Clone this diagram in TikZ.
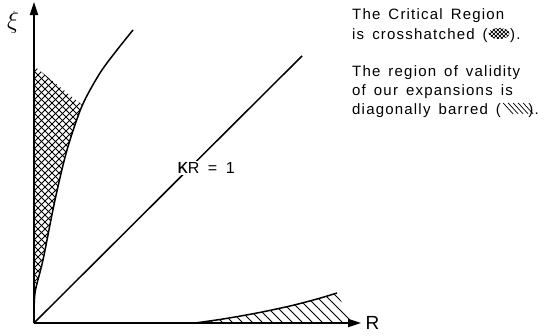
\documentclass[tikz,border=0pt]{standalone}
\usepackage{fontspec}
\setmainfont{Liberation Sans}
\newfontfamily\critfont{Liberation Sans}[LetterSpace=8,WordSpace=1.5]
\usetikzlibrary{arrows.meta,positioning}
\tikzset{
  critaxis/.style={line width=1.8pt,-{Triangle[length=13pt,width=8pt]}},
  critcurve/.style={line width=1.5pt},
  crithatch/.style={line width=0.9pt},
  critswatch/.style={line width=0.7pt},
  critnote/.style={font=\critfont\fontsize{15}{19}\selectfont,
                   inner sep=0pt,anchor=base west},
  critlabel/.style={font=\critfont\fontsize{16}{16}\selectfont,
                    fill=white,inner sep=1.5pt}
}

\begin{document}
\begin{tikzpicture}[x=1pt,y=-1pt]
  \useasboundingbox (0,0) rectangle (556,335);
  \coordinate (O) at (34,323);
  \coordinate (xitop) at (34,2);
  \coordinate (Rend) at (361,323);
  \coordinate (diagtop) at (302,56);

  \begin{scope}
    \clip (34,323) -- plot[smooth] coordinates {(34,323) (35,293) (43,260)
      (55,200) (67,150) (82,106) (100,73) (117,50) (133,30)}
      -- (34,30) -- cycle;
    \clip (34,66) -- (150,160) -- (150,330) -- (30,330) -- cycle;
    \foreach \a in {-266,-259,...,90} {
      \draw[crithatch] (\a,330) -- ++(300,-300);
      \draw[crithatch] (\a,30) -- ++(300,300);
    }
  \end{scope}

  \begin{scope}
    \clip plot[smooth] coordinates {(195,323) (223,319) (257,313) (290,306)
      (317,299) (337,293)} -- (352,323) -- cycle;
    \foreach \a in {150,160,...,350}
      \draw[crithatch] (\a,280) -- ++(60,60);
  \end{scope}

  \draw[critcurve] plot[smooth] coordinates {(34,323) (35,293) (43,260)
    (55,200) (67,150) (82,106) (100,73) (117,50) (133,30)};
  \draw[critcurve] plot[smooth] coordinates {(195,323) (223,319) (257,313)
    (290,306) (317,299) (337,293)};
  \draw[critcurve] (O) -- (diagtop);
  \node[critlabel] (kappa) at (206,168)
    {{\fontsize{21}{16}\selectfont κ}R = 1};

  \draw[critaxis] (O) -- (xitop);
  \draw[critaxis] (O) -- (Rend);
  \node[font=\fontsize{25}{25}\selectfont] (xi) at (13,22) {$\xi$};
  \node[font=\fontsize{19}{19}\selectfont,right=1pt of Rend] (R) {R};

  \node[critnote] (crita) at (352,19) {The Critical Region};
  \node[critnote] (critb) at (352,39) {is crosshatched (};
  \node[critnote] (critc) at ([xshift=22pt]critb.base east) {).};
  \begin{scope}[shift={(critb.base east)}]
    \clip (11,-5.5) ellipse [x radius=10.5, y radius=5.5];
    \foreach \a in {-12,-8,...,24} {
      \draw[critswatch] (\a,1) -- ++(12,-12);
      \draw[critswatch] (\a,-11) -- ++(12,12);
    }
  \end{scope}

  \node[critnote] (vala) at (352,76) {The region of validity};
  \node[critnote] (valb) at (352,95) {of our expansions is};
  \node[critnote] (valc) at (352,114) {diagonally barred (};
  \node[critnote] (vald) at ([xshift=27pt]valc.base east) {).};
  \begin{scope}[shift={(valc.base east)}]
    \foreach \a in {2,7,...,22}
      \draw[critswatch] (\a,-11) -- ++(10,11);
  \end{scope}
\end{tikzpicture}
\end{document}
